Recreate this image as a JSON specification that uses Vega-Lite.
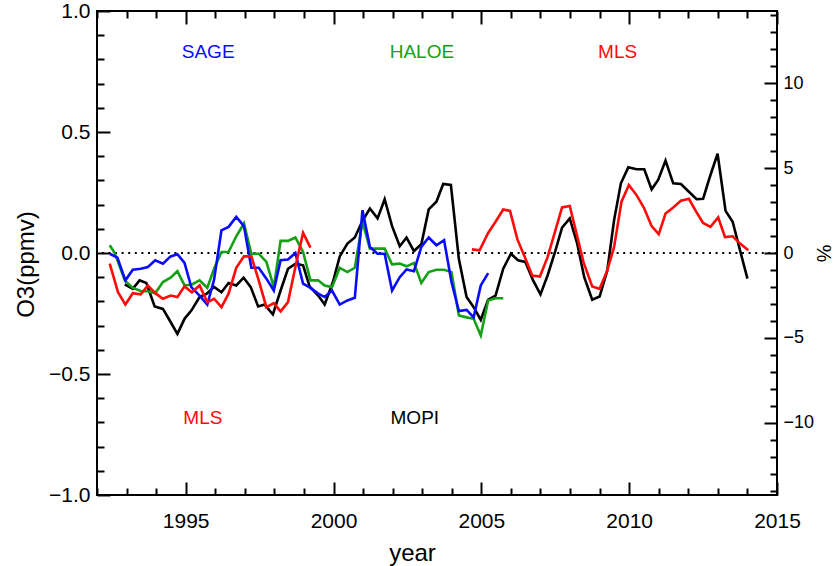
{
  "$schema": "https://vega.github.io/schema/vega-lite/v6.json",
  "autosize": "none",
  "padding": {"left": 97, "top": 11, "right": 58, "bottom": 71},
  "width": 680,
  "height": 484,
  "background": "white",
  "config": {
    "view": {"stroke": "black", "strokeWidth": 2},
    "axis": {"grid": false, "domain": false, "labelFont": "Liberation Sans", "titleFont": "Liberation Sans", "labelColor": "black", "titleColor": "black", "tickColor": "black", "tickWidth": 2, "labelFontSize": 21, "titleFontSize": 24, "titleFontWeight": "normal", "labelOverlap": false, "labelFlush": false}
  },
  "resolve": {"scale": {"y": "independent"}, "axis": {"x": "independent", "y": "independent"}},
  "data": {"values": [
    {"line":"MOPI","t":1992.94,"v":-0.13},{"line":"MOPI","t":1993.21,"v":-0.148},{"line":"MOPI","t":1993.44,"v":-0.113},{"line":"MOPI","t":1993.67,"v":-0.124},{"line":"MOPI","t":1993.95,"v":-0.221},{"line":"MOPI","t":1994.23,"v":-0.231},{"line":"MOPI","t":1994.46,"v":-0.279},{"line":"MOPI","t":1994.72,"v":-0.334},{"line":"MOPI","t":1994.96,"v":-0.272},{"line":"MOPI","t":1995.19,"v":-0.238},{"line":"MOPI","t":1995.47,"v":-0.182},{"line":"MOPI","t":1995.7,"v":-0.169},{"line":"MOPI","t":1995.96,"v":-0.14},{"line":"MOPI","t":1996.21,"v":-0.162},{"line":"MOPI","t":1996.45,"v":-0.124},{"line":"MOPI","t":1996.71,"v":-0.134},{"line":"MOPI","t":1996.96,"v":-0.102},{"line":"MOPI","t":1997.2,"v":-0.141},{"line":"MOPI","t":1997.45,"v":-0.221},{"line":"MOPI","t":1997.67,"v":-0.213},{"line":"MOPI","t":1997.95,"v":-0.254},{"line":"MOPI","t":1998.21,"v":-0.155},{"line":"MOPI","t":1998.46,"v":-0.065},{"line":"MOPI","t":1998.72,"v":-0.044},{"line":"MOPI","t":1998.97,"v":-0.051},{"line":"MOPI","t":1999.19,"v":-0.138},{"line":"MOPI","t":1999.48,"v":-0.176},{"line":"MOPI","t":1999.7,"v":-0.213},{"line":"MOPI","t":1999.98,"v":-0.12},{"line":"MOPI","t":2000.21,"v":-0.014},{"line":"MOPI","t":2000.47,"v":0.039},{"line":"MOPI","t":2000.72,"v":0.064},{"line":"MOPI","t":2000.98,"v":0.133},{"line":"MOPI","t":2001.23,"v":0.184},{"line":"MOPI","t":2001.49,"v":0.143},{"line":"MOPI","t":2001.73,"v":0.222},{"line":"MOPI","t":2001.98,"v":0.111},{"line":"MOPI","t":2002.24,"v":0.028},{"line":"MOPI","t":2002.47,"v":0.064},{"line":"MOPI","t":2002.72,"v":0.008},{"line":"MOPI","t":2002.97,"v":0.036},{"line":"MOPI","t":2003.22,"v":0.18},{"line":"MOPI","t":2003.48,"v":0.212},{"line":"MOPI","t":2003.71,"v":0.285},{"line":"MOPI","t":2003.97,"v":0.281},{"line":"MOPI","t":2004.24,"v":-0.025},{"line":"MOPI","t":2004.5,"v":-0.182},{"line":"MOPI","t":2004.74,"v":-0.224},{"line":"MOPI","t":2004.98,"v":-0.276},{"line":"MOPI","t":2005.23,"v":-0.193},{"line":"MOPI","t":2005.48,"v":-0.176},{"line":"MOPI","t":2005.74,"v":-0.065},{"line":"MOPI","t":2006.0,"v":-0.003},{"line":"MOPI","t":2006.24,"v":-0.03},{"line":"MOPI","t":2006.49,"v":-0.037},{"line":"MOPI","t":2006.75,"v":-0.113},{"line":"MOPI","t":2007.0,"v":-0.171},{"line":"MOPI","t":2007.24,"v":-0.093},{"line":"MOPI","t":2007.49,"v":0.004},{"line":"MOPI","t":2007.73,"v":0.105},{"line":"MOPI","t":2007.99,"v":0.143},{"line":"MOPI","t":2008.24,"v":0.04},{"line":"MOPI","t":2008.48,"v":-0.1},{"line":"MOPI","t":2008.75,"v":-0.193},{"line":"MOPI","t":2009.0,"v":-0.18},{"line":"MOPI","t":2009.26,"v":-0.072},{"line":"MOPI","t":2009.49,"v":0.136},{"line":"MOPI","t":2009.72,"v":0.288},{"line":"MOPI","t":2009.97,"v":0.354},{"line":"MOPI","t":2010.25,"v":0.346},{"line":"MOPI","t":2010.51,"v":0.346},{"line":"MOPI","t":2010.76,"v":0.263},{"line":"MOPI","t":2010.98,"v":0.302},{"line":"MOPI","t":2011.23,"v":0.382},{"line":"MOPI","t":2011.49,"v":0.288},{"line":"MOPI","t":2011.75,"v":0.285},{"line":"MOPI","t":2012.02,"v":0.253},{"line":"MOPI","t":2012.28,"v":0.222},{"line":"MOPI","t":2012.5,"v":0.224},{"line":"MOPI","t":2012.73,"v":0.315},{"line":"MOPI","t":2012.99,"v":0.41},{"line":"MOPI","t":2013.26,"v":0.174},{"line":"MOPI","t":2013.5,"v":0.129},{"line":"MOPI","t":2013.75,"v":0.011},{"line":"MOPI","t":2014.0,"v":-0.106},
    {"line":"HALOE","t":1992.43,"v":0.032},{"line":"HALOE","t":1992.6,"v":0.0},{"line":"HALOE","t":1992.94,"v":-0.113},{"line":"HALOE","t":1993.21,"v":-0.144},{"line":"HALOE","t":1993.5,"v":-0.158},{"line":"HALOE","t":1993.72,"v":-0.158},{"line":"HALOE","t":1993.97,"v":-0.166},{"line":"HALOE","t":1994.23,"v":-0.12},{"line":"HALOE","t":1994.49,"v":-0.102},{"line":"HALOE","t":1994.72,"v":-0.075},{"line":"HALOE","t":1994.96,"v":-0.134},{"line":"HALOE","t":1995.21,"v":-0.13},{"line":"HALOE","t":1995.47,"v":-0.113},{"line":"HALOE","t":1995.73,"v":-0.144},{"line":"HALOE","t":1995.96,"v":-0.065},{"line":"HALOE","t":1996.21,"v":0.004},{"line":"HALOE","t":1996.45,"v":0.004},{"line":"HALOE","t":1996.71,"v":0.069},{"line":"HALOE","t":1996.97,"v":0.122},{"line":"HALOE","t":1997.22,"v":-0.003},{"line":"HALOE","t":1997.47,"v":-0.003},{"line":"HALOE","t":1997.73,"v":-0.037},{"line":"HALOE","t":1997.98,"v":-0.141},{"line":"HALOE","t":1998.21,"v":0.05},{"line":"HALOE","t":1998.46,"v":0.05},{"line":"HALOE","t":1998.71,"v":0.064},{"line":"HALOE","t":1998.97,"v":0.004},{"line":"HALOE","t":1999.22,"v":-0.113},{"line":"HALOE","t":1999.48,"v":-0.113},{"line":"HALOE","t":1999.7,"v":-0.134},{"line":"HALOE","t":1999.95,"v":-0.141},{"line":"HALOE","t":2000.21,"v":-0.061},{"line":"HALOE","t":2000.47,"v":-0.079},{"line":"HALOE","t":2000.72,"v":-0.061},{"line":"HALOE","t":2000.98,"v":0.129},{"line":"HALOE","t":2001.23,"v":0.018},{"line":"HALOE","t":2001.49,"v":0.018},{"line":"HALOE","t":2001.73,"v":0.018},{"line":"HALOE","t":2001.98,"v":-0.047},{"line":"HALOE","t":2002.24,"v":-0.044},{"line":"HALOE","t":2002.47,"v":-0.055},{"line":"HALOE","t":2002.72,"v":-0.041},{"line":"HALOE","t":2002.97,"v":-0.124},{"line":"HALOE","t":2003.22,"v":-0.079},{"line":"HALOE","t":2003.48,"v":-0.069},{"line":"HALOE","t":2003.74,"v":-0.069},{"line":"HALOE","t":2003.99,"v":-0.079},{"line":"HALOE","t":2004.24,"v":-0.258},{"line":"HALOE","t":2004.5,"v":-0.266},{"line":"HALOE","t":2004.74,"v":-0.272},{"line":"HALOE","t":2004.98,"v":-0.341},{"line":"HALOE","t":2005.23,"v":-0.196},{"line":"HALOE","t":2005.48,"v":-0.187},{"line":"HALOE","t":2005.74,"v":-0.187},
    {"line":"SAGE","t":1992.43,"v":-0.003},{"line":"SAGE","t":1992.69,"v":-0.019},{"line":"SAGE","t":1992.96,"v":-0.113},{"line":"SAGE","t":1993.21,"v":-0.069},{"line":"SAGE","t":1993.48,"v":-0.065},{"line":"SAGE","t":1993.72,"v":-0.058},{"line":"SAGE","t":1993.97,"v":-0.03},{"line":"SAGE","t":1994.23,"v":-0.044},{"line":"SAGE","t":1994.49,"v":-0.014},{"line":"SAGE","t":1994.72,"v":-0.005},{"line":"SAGE","t":1994.96,"v":-0.041},{"line":"SAGE","t":1995.19,"v":-0.141},{"line":"SAGE","t":1995.47,"v":-0.176},{"line":"SAGE","t":1995.73,"v":-0.213},{"line":"SAGE","t":1995.96,"v":-0.11},{"line":"SAGE","t":1996.21,"v":0.094},{"line":"SAGE","t":1996.45,"v":0.108},{"line":"SAGE","t":1996.71,"v":0.149},{"line":"SAGE","t":1996.97,"v":0.111},{"line":"SAGE","t":1997.22,"v":-0.061},{"line":"SAGE","t":1997.47,"v":-0.061},{"line":"SAGE","t":1997.73,"v":-0.106},{"line":"SAGE","t":1997.98,"v":-0.155},{"line":"SAGE","t":1998.21,"v":-0.03},{"line":"SAGE","t":1998.46,"v":-0.027},{"line":"SAGE","t":1998.71,"v":0.0},{"line":"SAGE","t":1998.97,"v":-0.127},{"line":"SAGE","t":1999.22,"v":-0.144},{"line":"SAGE","t":1999.48,"v":-0.168},{"line":"SAGE","t":1999.7,"v":-0.182},{"line":"SAGE","t":1999.95,"v":-0.155},{"line":"SAGE","t":2000.21,"v":-0.213},{"line":"SAGE","t":2000.47,"v":-0.196},{"line":"SAGE","t":2000.72,"v":-0.185},{"line":"SAGE","t":2000.98,"v":0.177},{"line":"SAGE","t":2001.23,"v":0.025},{"line":"SAGE","t":2001.49,"v":-0.003},{"line":"SAGE","t":2001.73,"v":-0.003},{"line":"SAGE","t":2001.98,"v":-0.155},{"line":"SAGE","t":2002.24,"v":-0.1},{"line":"SAGE","t":2002.47,"v":-0.068},{"line":"SAGE","t":2002.72,"v":-0.075},{"line":"SAGE","t":2002.97,"v":0.025},{"line":"SAGE","t":2003.22,"v":0.064},{"line":"SAGE","t":2003.48,"v":0.032},{"line":"SAGE","t":2003.74,"v":0.053},{"line":"SAGE","t":2003.99,"v":-0.12},{"line":"SAGE","t":2004.24,"v":-0.24},{"line":"SAGE","t":2004.5,"v":-0.235},{"line":"SAGE","t":2004.74,"v":-0.266},{"line":"SAGE","t":2004.98,"v":-0.134},{"line":"SAGE","t":2005.23,"v":-0.083},
    {"line":"MLS-1","t":1992.43,"v":-0.044},{"line":"MLS-1","t":1992.71,"v":-0.162},{"line":"MLS-1","t":1992.96,"v":-0.213},{"line":"MLS-1","t":1993.21,"v":-0.166},{"line":"MLS-1","t":1993.48,"v":-0.171},{"line":"MLS-1","t":1993.72,"v":-0.134},{"line":"MLS-1","t":1993.97,"v":-0.166},{"line":"MLS-1","t":1994.23,"v":-0.189},{"line":"MLS-1","t":1994.49,"v":-0.176},{"line":"MLS-1","t":1994.72,"v":-0.182},{"line":"MLS-1","t":1994.96,"v":-0.138},{"line":"MLS-1","t":1995.21,"v":-0.162},{"line":"MLS-1","t":1995.47,"v":-0.134},{"line":"MLS-1","t":1995.73,"v":-0.203},{"line":"MLS-1","t":1995.96,"v":-0.189},{"line":"MLS-1","t":1996.21,"v":-0.224},{"line":"MLS-1","t":1996.45,"v":-0.168},{"line":"MLS-1","t":1996.71,"v":-0.061},{"line":"MLS-1","t":1996.97,"v":-0.014},{"line":"MLS-1","t":1997.22,"v":-0.014},{"line":"MLS-1","t":1997.47,"v":-0.113},{"line":"MLS-1","t":1997.73,"v":-0.224},{"line":"MLS-1","t":1997.98,"v":-0.207},{"line":"MLS-1","t":1998.21,"v":-0.241},{"line":"MLS-1","t":1998.46,"v":-0.203},{"line":"MLS-1","t":1998.71,"v":-0.058},{"line":"MLS-1","t":1998.97,"v":0.083},{"line":"MLS-1","t":1999.22,"v":0.022},
    {"line":"MLS-2","t":2004.68,"v":0.015},{"line":"MLS-2","t":2004.94,"v":0.011},{"line":"MLS-2","t":2005.23,"v":0.083},{"line":"MLS-2","t":2005.48,"v":0.129},{"line":"MLS-2","t":2005.74,"v":0.18},{"line":"MLS-2","t":2005.97,"v":0.174},{"line":"MLS-2","t":2006.22,"v":0.056},{"line":"MLS-2","t":2006.47,"v":-0.017},{"line":"MLS-2","t":2006.72,"v":-0.093},{"line":"MLS-2","t":2006.98,"v":-0.097},{"line":"MLS-2","t":2007.24,"v":-0.017},{"line":"MLS-2","t":2007.49,"v":0.087},{"line":"MLS-2","t":2007.73,"v":0.188},{"line":"MLS-2","t":2007.99,"v":0.194},{"line":"MLS-2","t":2008.22,"v":0.08},{"line":"MLS-2","t":2008.46,"v":-0.04},{"line":"MLS-2","t":2008.75,"v":-0.138},{"line":"MLS-2","t":2009.0,"v":-0.148},{"line":"MLS-2","t":2009.26,"v":-0.072},{"line":"MLS-2","t":2009.49,"v":0.025},{"line":"MLS-2","t":2009.74,"v":0.212},{"line":"MLS-2","t":2009.99,"v":0.281},{"line":"MLS-2","t":2010.25,"v":0.239},{"line":"MLS-2","t":2010.51,"v":0.184},{"line":"MLS-2","t":2010.76,"v":0.111},{"line":"MLS-2","t":2011.0,"v":0.078},{"line":"MLS-2","t":2011.23,"v":0.163},{"line":"MLS-2","t":2011.49,"v":0.188},{"line":"MLS-2","t":2011.75,"v":0.216},{"line":"MLS-2","t":2012.02,"v":0.224},{"line":"MLS-2","t":2012.26,"v":0.172},{"line":"MLS-2","t":2012.5,"v":0.124},{"line":"MLS-2","t":2012.75,"v":0.108},{"line":"MLS-2","t":2013.01,"v":0.147},{"line":"MLS-2","t":2013.24,"v":0.066},{"line":"MLS-2","t":2013.5,"v":0.069},{"line":"MLS-2","t":2013.75,"v":0.039},{"line":"MLS-2","t":2014.03,"v":0.011}
  ]},
  "layer": [
    {
      "data": {"values": [{"zero": 0}]},
      "mark": {"type": "rule", "color": "black", "strokeWidth": 2.2, "strokeDash": [2, 4.6]},
      "encoding": {
        "y": {"field": "zero", "type": "quantitative", "scale": {"domain": [-1, 1], "nice": false, "zero": false}, "axis": null}
      }
    },
    {
      "mark": {"type": "line", "strokeWidth": 2.6},
      "encoding": {
        "x": {"field": "t", "type": "quantitative", "scale": {"domain": [1992, 2015], "nice": false, "zero": false},
          "axis": {"orient": "bottom", "title": "year", "format": "d",
            "values": [1992,1993,1994,1995,1996,1997,1998,1999,2000,2001,2002,2003,2004,2005,2006,2007,2008,2009,2010,2011,2012,2013,2014,2015],
            "labelExpr": "datum.value % 5 === 0 ? datum.label : ''",
            "tickSize": {"condition": {"test": "datum.value % 5 === 0", "value": -13}, "value": -7},
            "labelPadding": 28, "titleX": 315, "titleY": 58, "titleBaseline": "middle", "titleAlign": "center"}},
        "y": {"field": "v", "type": "quantitative", "scale": {"domain": [-1, 1], "nice": false, "zero": false},
          "axis": {"orient": "left", "title": "O3(ppmv)",
            "values": [-1,-0.9,-0.8,-0.7,-0.6,-0.5,-0.4,-0.3,-0.2,-0.1,0,0.1,0.2,0.3,0.4,0.5,0.6,0.7,0.8,0.9,1],
            "labelExpr": "abs(datum.value*2 - round(datum.value*2)) < 0.001 ? format(datum.value, '.1f') : ''",
            "tickSize": {"condition": {"test": "abs(datum.value*2 - round(datum.value*2)) < 0.001", "value": -13}, "value": -7},
            "labelPadding": 20, "titleX": -71, "titleY": 253, "titleBaseline": "middle", "titleAlign": "center", "titleAngle": -90}},
        "color": {"field": "line", "type": "nominal", "legend": null,
          "scale": {"domain": ["MOPI", "HALOE", "SAGE", "MLS-1", "MLS-2"], "range": ["#000000", "#14a014", "#0a0aff", "#ff0a0a", "#ff0a0a"]}}
      }
    },
    {
      "data": {"values": [
        {"label": "SAGE", "line": "SAGE", "t": 1995.76, "v": 0.829},
        {"label": "HALOE", "line": "HALOE", "t": 2002.99, "v": 0.829},
        {"label": "MLS", "line": "MLS-2", "t": 2009.61, "v": 0.829},
        {"label": "MLS", "line": "MLS-1", "t": 1995.58, "v": -0.682},
        {"label": "MOPI", "line": "MOPI", "t": 2002.75, "v": -0.682}
      ]},
      "mark": {"type": "text", "font": "Liberation Sans", "fontSize": 19, "align": "center", "baseline": "middle"},
      "encoding": {
        "x": {"field": "t", "type": "quantitative", "scale": {"domain": [1992, 2015], "nice": false, "zero": false},
          "axis": {"orient": "top", "title": null, "labels": false,
            "values": [1992,1993,1994,1995,1996,1997,1998,1999,2000,2001,2002,2003,2004,2005,2006,2007,2008,2009,2010,2011,2012,2013,2014,2015],
            "tickSize": {"condition": {"test": "datum.value % 5 === 0", "value": -13}, "value": -7}}},
        "y": {"field": "v", "type": "quantitative", "scale": {"domain": [-1, 1], "nice": false, "zero": false}, "axis": null},
        "color": {"field": "line", "type": "nominal", "legend": null},
        "text": {"field": "label", "type": "nominal"}
      }
    },
    {
      "data": {"values": [{"pct": 0}]},
      "mark": {"type": "rule", "opacity": 0},
      "encoding": {
        "y": {"field": "pct", "type": "quantitative", "scale": {"domain": [-14.25, 14.25], "nice": false, "zero": false},
          "axis": {"orient": "right", "title": "%", "format": "d", "labelFontSize": 18, "titleFontSize": 20,
            "values": [-14,-13,-12,-11,-10,-9,-8,-7,-6,-5,-4,-3,-2,-1,0,1,2,3,4,5,6,7,8,9,10,11,12,13,14],
            "labelExpr": "datum.value % 5 === 0 ? datum.label : ''",
            "tickSize": {"condition": {"test": "datum.value % 5 === 0", "value": -13}, "value": -7},
            "labelPadding": 19, "titleX": 45, "titleY": 242, "titleBaseline": "middle", "titleAlign": "center", "titleAngle": 90}}
      }
    }
  ]
}
